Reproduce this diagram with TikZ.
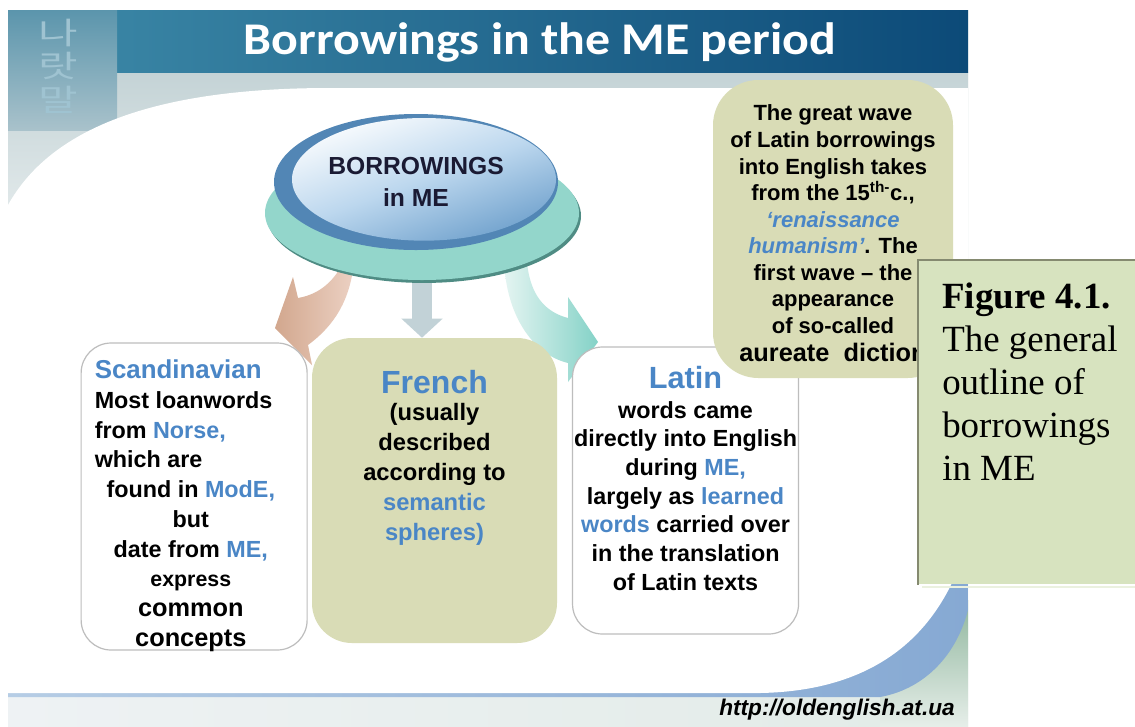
\documentclass[tikz,border=0pt]{standalone}
\usepackage{fontspec}
\setmainfont{Liberation Sans}
\newfontfamily\serifface{Liberation Serif}
\newfontfamily\titleface{Carlito}
\newfontfamily\hangulface{Noto Sans CJK KR}
\usetikzlibrary{positioning,shapes.geometric,backgrounds,arrows.meta}

\definecolor{hilite}{HTML}{4A86C6}
\definecolor{khaki}{HTML}{D9DCB6}
\definecolor{figgreen}{HTML}{D7E3BF}
\definecolor{figedge}{HTML}{858A70}
\definecolor{boxgray}{HTML}{BDBDBD}
\definecolor{headlight}{HTML}{3E8BA9}
\definecolor{headdark}{HTML}{0C4A78}
\definecolor{bandgray}{HTML}{C4D3D6}
\definecolor{topfade}{HTML}{F4F7F7}
\definecolor{discteal}{HTML}{93D6CB}
\definecolor{discedge}{HTML}{4F8C84}
\definecolor{hubrim}{HTML}{5286B5}
\definecolor{hubdeep}{HTML}{6A9DCA}
\definecolor{hubsoft}{HTML}{BCD7EE}
\definecolor{hubtext}{HTML}{1A1A33}
\definecolor{arrowgray}{HTML}{C2D2D7}
\definecolor{stripA}{HTML}{EEF2F4}
\definecolor{stripB}{HTML}{E2EBE7}
\definecolor{photoA}{HTML}{5B95AC}
\definecolor{photoB}{HTML}{A9C2CB}
\definecolor{hangul}{HTML}{9FC3D1}
\definecolor{cornergreen}{HTML}{8FB69D}
\definecolor{cornerlight}{HTML}{E6EEE9}
\definecolor{bandblueA}{HTML}{B6CDE5}
\definecolor{bandblueB}{HTML}{86A9D3}
\definecolor{brownA}{HTML}{D2A78E}
\definecolor{brownB}{HTML}{ECD1C3}
\definecolor{tealA}{HTML}{E3F4F1}
\definecolor{tealB}{HTML}{84D2C7}

\newcommand{\hl}[1]{\textcolor{hilite}{#1}}
\newcommand{\headtext}[2]{{\fontsize{#1}{#1}\selectfont\color{hilite}#2}}
\newcommand{\ctrline}[1]{\makebox[144pt][c]{#1}}

\begin{document}
\begin{tikzpicture}[x=0.75pt,y=-0.75pt,
    box/.style={rounded corners=22.5pt,inner sep=0pt},
    whitebox/.style={box,draw=boxgray,line width=0.9pt,fill=white,
                     minimum width=169.5pt},
    khakibox/.style={box,fill=khaki},
    bodytext/.style={inner sep=0pt,align=center,
                     font=\bfseries\fontsize{17.5pt}{22.3pt}\selectfont},
    disc/.style={ellipse,inner sep=0pt}]
  \useasboundingbox (0,0) rectangle (1135,726);

  % the disc
  \node[disc,minimum width=235.5pt,minimum height=100.5pt,fill=discteal,
        preaction={fill=discedge,transform canvas={xshift=1.5pt,yshift=-2.2pt}}]
        (base) at (422,213) {};
  \node[disc,minimum width=213pt,minimum height=102pt,fill=hubrim,
        text=hubtext,align=center,font=\bfseries\fontsize{18.5pt}{24pt}\selectfont,
        path picture={\shade[top color=white,bottom color=hubdeep,
                             middle color=hubsoft,shading angle=20]
          ([xshift=6pt,yshift=2pt]path picture bounding box.center)
          ellipse [x radius=99pt,y radius=46pt];}]
        (hub) at (416,182) {BORROWINGS\\in ME};

  % the three boxes
  \node[khakibox,minimum width=183.75pt,minimum height=228.75pt,
        rounded corners=30pt]                      (french) at (434.5,490.5) {};
  \node[whitebox,minimum height=230.25pt,left=3pt of french,yshift=-4.5pt] (scand) {};
  \node[whitebox,minimum height=215.25pt,right=11pt of french]             (latin) {};
  \node[khakibox,minimum width=180pt,minimum height=223.5pt,
        rounded corners=34pt]                      (wave) at (833,229) {};

  \node[bodytext,align=left,anchor=north west,
        below right=13pt and 10.5pt of scand.north west] (scandText)
    {\headtext{19.4pt}{Scandinavian}\\
     Most loanwords\\
     from \hl{Norse,}\\
     which are\\
     \ctrline{found in \hl{ModE,}}\\
     \ctrline{but}\\
     \ctrline{date from \hl{ME,}}\\
     \ctrline{\fontsize{16pt}{22pt}\selectfont express}\\
     \ctrline{\fontsize{19pt}{22pt}\selectfont common}\\
     \ctrline{\fontsize{19pt}{22pt}\selectfont concepts}};
  \node[bodytext,font=\bfseries\fontsize{17.8pt}{22.5pt}\selectfont,
        below=24pt of french.north] (frenchText)
    {\headtext{24pt}{French}\\[-2.2pt]
     (usually\\described\\according to\\\hl{semantic}\\\hl{spheres)}};
  \node[bodytext,font=\bfseries\fontsize{17.5pt}{21.5pt}\selectfont,
        below=14.5pt of latin.north] (latinText)
    {\headtext{23pt}{Latin}\\[1pt]
     words came\\directly into English\\during \hl{ME,}\\
     largely as \hl{learned}\\\hl{words} carried over\\
     in the translation\\of Latin texts};
  \node[bodytext,font=\bfseries\fontsize{16.5pt}{19.9pt}\selectfont,
        below=18.75pt of wave.north] (waveText)
    {The great wave\\of Latin borrowings\\into English takes\\
     from the 15\textsuperscript{th-}c.,\\
     \hl{\itshape ‘renaissance}\\\hl{\itshape humanism’}. The\\
     first wave -- the\\appearance\\of so-called\\[1.5pt]
     {\fontsize{19pt}{20pt}\selectfont aureate\ \ diction}};

  % caption on the right
  \node[fill=figgreen,minimum width=162.75pt,minimum height=243pt,
        inner sep=0pt,anchor=north west] (figbox) at (918,260) {};
  \draw[figedge,line width=2.2pt] (figbox.south west) -- (figbox.north west)
                                  -- (figbox.north east);
  \draw[figgreen!50!white,line width=1.5pt]
        ([xshift=3pt,yshift=-1.5pt]figbox.south west) -- ([yshift=-1.5pt]figbox.south east);
  \node[inner sep=0pt,align=left,anchor=north west,
        font=\serifface\fontsize{27.7pt}{32.25pt}\selectfont,
        below right=17pt and 18pt of figbox.north west] (figText)
    {\textbf{Figure 4.1.}\\The general\\outline of\\borrowings\\in ME};

  \node[text=white,font=\titleface\bfseries\fontsize{34pt}{34pt}\selectfont]
        (title) at (540,42) {\scalebox{1.1}[1]{Borrowings in the ME period}};
  \node[font=\bfseries\itshape\fontsize{17pt}{17pt}\selectfont]
        (site) at (837,710) {http://oldenglish.at.ua};

  \begin{scope}[on background layer]
    % slide backdrop
    \shade[left color=stripA,right color=stripB] (8,10) rectangle (968,726);
    \shade[top color=bandgray,bottom color=topfade] (8,72) rectangle (968,300);
    \shade[left color=headlight,right color=headdark] (8,10) rectangle (968,72);
    \shade[top color=photoA,bottom color=photoB] (8,10) rectangle (117,130);
    \node[text=hangul,inner sep=0pt,align=center,
          font=\hangulface\fontsize{23pt}{25pt}\selectfont]
          (hangulText) at (58,66) {\scalebox{1.4}[1]{나}\\\scalebox{1.4}[1]{랏}\\\scalebox{1.4}[1]{말}};
    \shade[top color=cornergreen,bottom color=cornerlight] (880,600) rectangle (968,726);
    \shade[left color=bandblueA,right color=bandblueB]
      (8,480) -- (968,480) -- (968,610) .. controls (955,660) and (920,690) .. (880,697)
      -- (8,697) -- cycle;
    \fill[white] (8,205) .. controls (50,130) and (150,88) .. (330,88) -- (968,88)
      -- (968,540) .. controls (940,640) and (870,691) .. (760,693) -- (8,693) -- cycle;

    % arrows out of the disc
    \shade[left color=brownA,right color=brownB]
      (340,262) -- (337,273) .. controls (325,290) and (310,296) .. (298,298)
      -- (293,277) -- (275,328) -- (312,365) -- (308,345)
      .. controls (335,325) and (350,300) .. (354,262) -- cycle;
    \shade[left color=tealA,right color=tealB]
      (505,262) -- (505,273) .. controls (510,320) and (535,355) .. (568,363)
      -- (568,382) -- (598,342) -- (568,297) -- (568,318)
      .. controls (545,312) and (530,295) .. (527,262) -- cycle;
    \draw[line width=15pt,arrowgray,-{Triangle[width=30pt,length=14.25pt]}]
      (base) -- (base |- french.north);
  \end{scope}
\end{tikzpicture}
\end{document}
